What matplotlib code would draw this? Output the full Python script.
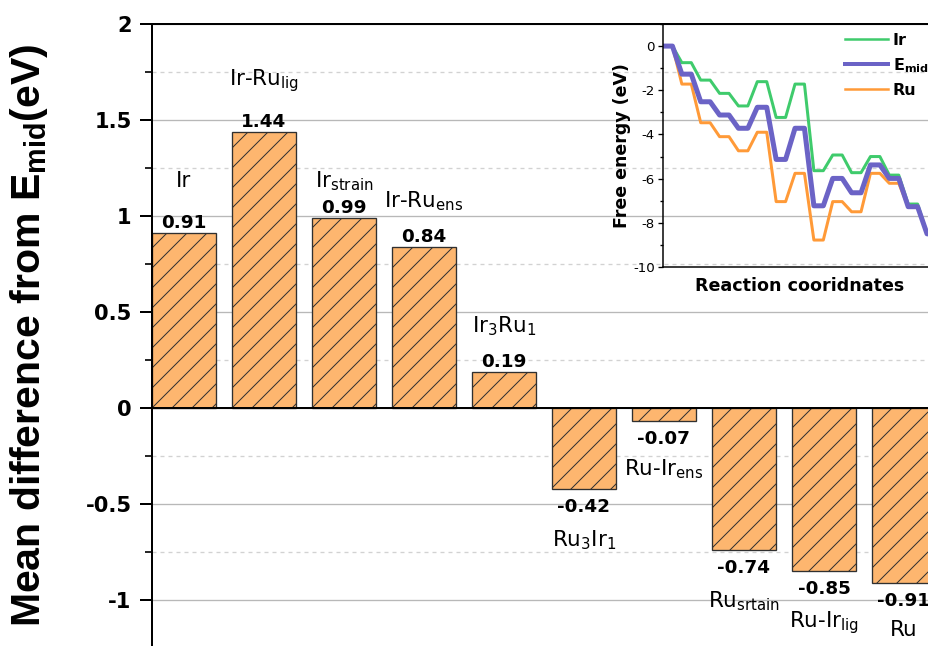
import numpy as np
import matplotlib
matplotlib.use('Agg')
import matplotlib.pyplot as plt
from matplotlib.ticker import MultipleLocator, FuncFormatter
from matplotlib.lines import Line2D

plt.rcParams['font.family'] = ['DejaVu Sans']
plt.rcParams['mathtext.default'] = 'regular'
plt.rcParams['axes.unicode_minus'] = False
plt.rcParams['hatch.linewidth'] = 0.6

# bar chart data
names = ['Ir', 'Ir-Ru$_{lig}$', 'Ir$_{strain}$', 'Ir-Ru$_{ens}$', 'Ir$_3$Ru$_1$',
         'Ru$_3$Ir$_1$', 'Ru-Ir$_{ens}$', 'Ru$_{srtain}$', 'Ru-Ir$_{lig}$', 'Ru']
diffs = [0.91, 1.44, 0.99, 0.84, 0.19, -0.42, -0.07, -0.74, -0.85, -0.91]

# free energy profile (one value per intermediate)
ir_energy = [0, -0.75, -1.54, -2.14, -2.71, -1.61, -3.23, -1.72, -5.64, -4.93,
             -5.73, -5.0, -5.84, -7.15, -8.5]
emid_energy = [0, -1.27, -2.52, -3.12, -3.72, -2.77, -5.13, -3.72, -7.23, -5.99,
               -6.64, -5.38, -5.99, -7.27, -8.5]
ru_energy = [0, -1.72, -3.47, -4.10, -4.74, -3.90, -7.04, -5.76, -8.78, -7.04,
             -7.50, -5.76, -6.21, -7.27, -8.5]

# gap (pixels) between bar end and its name
name_gap = [46, 46, 31, 39, 39, 40, 36, 39, 38, 37]

W, H, DPI = 928, 646, 120
fig = plt.figure(figsize=(W / DPI, H / DPI), dpi=DPI)
ax = fig.add_axes([152 / W, 0, 1 - 152 / W, (H - 24) / H])

x = np.arange(len(diffs))
ax.bar(x, diffs, width=0.8, color='#FDB66F', edgecolor='#303030',
       linewidth=0.8, hatch='//', zorder=3)

for xi, v, name, gap in zip(x, diffs, names, name_gap):
    if v >= 0:
        ax.annotate(f'{v:.2f}', (xi, v), xytext=(0, 5), textcoords='offset pixels',
                    ha='center', va='baseline', fontsize=11, fontweight='bold', zorder=5)
        ax.annotate(name, (xi, v), xytext=(0, gap), textcoords='offset pixels',
                    ha='center', va='baseline', fontsize=12.8, zorder=5)
    else:
        ax.annotate(f'{v:.2f}', (xi, v), xytext=(0, -9), textcoords='offset pixels',
                    ha='center', va='top', fontsize=11, fontweight='bold', zorder=5)
        ax.annotate(name, (xi, v), xytext=(0, -gap), textcoords='offset pixels',
                    ha='center', va='top', fontsize=12.8, zorder=5)

ax.set_xlim(-0.4, 9.3)
ax.set_ylim(-2 * (H - 24) / 384 + 2, 2)
ax.yaxis.set_major_locator(MultipleLocator(0.5))
ax.yaxis.set_minor_locator(MultipleLocator(0.25))
ax.yaxis.set_major_formatter(FuncFormatter(lambda v, p: f'{v:g}'))
ax.grid(which='major', axis='y', color='#b8b8b8', linewidth=0.8, zorder=0)
ax.grid(which='minor', axis='y', color='#d2d2d2', linewidth=0.8,
        linestyle=(0, (3, 3)), zorder=0)
ax.set_axisbelow(True)
ax.tick_params(axis='y', which='major', direction='out', length=7.2, width=1.2,
               pad=5, labelsize=12.6)
ax.tick_params(axis='y', which='minor', direction='out', length=4.2, width=1.0)
for lab in ax.get_yticklabels():
    lab.set_fontweight('bold')
ax.tick_params(axis='x', bottom=False, labelbottom=False)
ax.spines['bottom'].set_position(('data', 0))
ax.spines['right'].set_visible(False)
for s in ['left', 'top', 'bottom']:
    ax.spines[s].set_linewidth(1.2)
    ax.spines[s].set_zorder(4)

ax.set_ylabel('Mean difference from E$_{mid}$(eV)', fontsize=24.6,
              fontweight='bold', family='Liberation Sans')
ax.yaxis.set_label_coords(-0.132, 0.5)

# inset: free energy diagram
ins = fig.add_axes([663 / W, (H - 267) / H, 29 * 9.43 / W, 243 / H])
ins.patch.set_alpha(0)


def steps(levels):
    xs, ys = [], []
    for k, e in enumerate(levels):
        xs += [2 * k, 2 * k + 1]
        ys += [e, e]
    return xs, ys


ins.plot(*steps(ir_energy), color='#3FCB6C', lw=1.8)
ins.plot(*steps(ru_energy), color='#FF9A38', lw=1.8)
ins.plot(*steps(emid_energy), color='#6B63C6', lw=3.0)
ins.set_xlim(0, 29)
ins.set_ylim(-10, 1)
ins.yaxis.set_major_locator(MultipleLocator(2))
ins.yaxis.set_minor_locator(MultipleLocator(1))
ins.yaxis.set_major_formatter(FuncFormatter(lambda v, p: f'{v:g}'))
ins.tick_params(axis='y', which='major', direction='out', length=3, width=0.8,
                pad=2, labelsize=8)
ins.tick_params(axis='y', which='minor', direction='out', length=1.8, width=0.8)
ins.tick_params(axis='x', bottom=False, labelbottom=False)
for s in ins.spines.values():
    s.set_linewidth(0.9)
ins.set_ylabel('Free energy (eV)', fontsize=10.4, fontweight='bold', labelpad=1)
ins.set_xlabel('Reaction cooridnates', fontsize=10.5, fontweight='bold', labelpad=6)

handles = [Line2D([], [], color='#3FCB6C', lw=1.5),
           Line2D([], [], color='#6B63C6', lw=2.4),
           Line2D([], [], color='#FF9A38', lw=1.5)]
ins.legend(handles, ['Ir', 'E$_{mid}$', 'Ru'], loc='upper left',
           bbox_to_anchor=(845 / W, 1 - 33 / H), bbox_transform=fig.transFigure,
           frameon=False, borderpad=0, borderaxespad=0, handlelength=2.7,
           handletextpad=0.3, labelspacing=0.5,
           prop={'weight': 'bold', 'size': 9.6})

fig.savefig('out.png', dpi=DPI)
